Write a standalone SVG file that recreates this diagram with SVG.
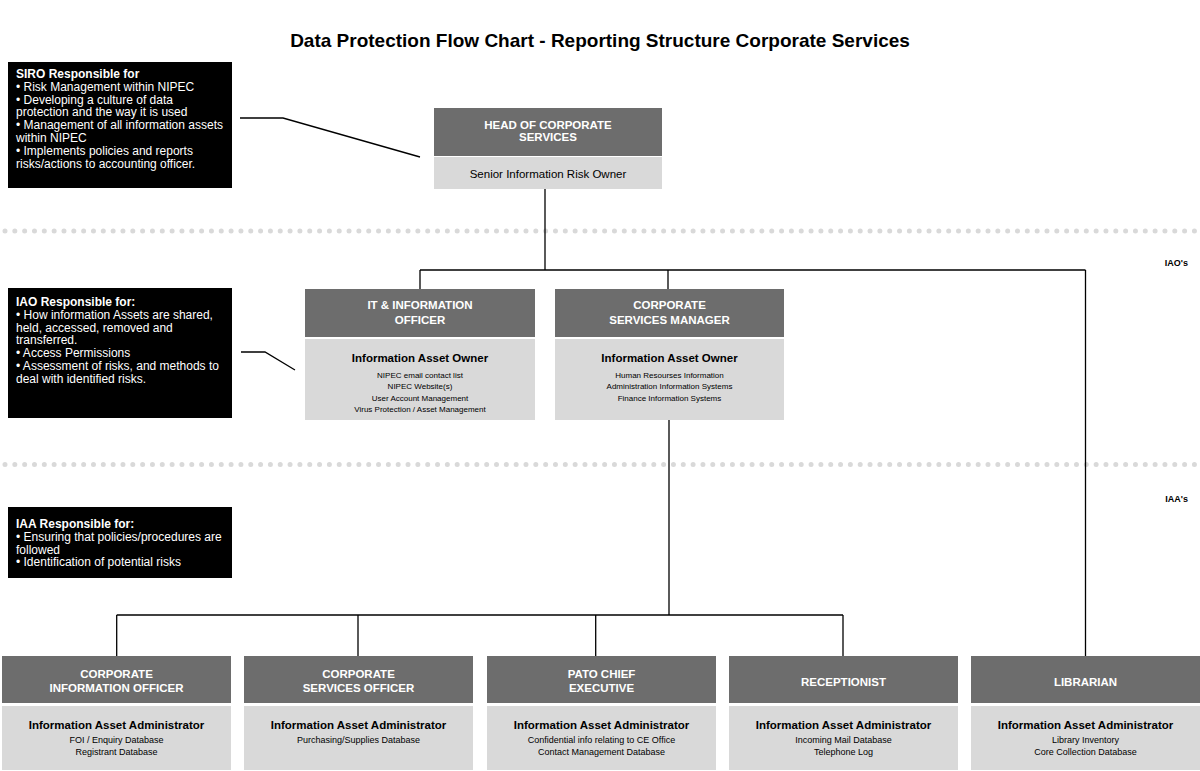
<svg xmlns="http://www.w3.org/2000/svg" width="1200" height="771" viewBox="0 0 1200 771">
<defs>
<style>
text{font-family:"Liberation Sans",Arial,sans-serif}
.title{font-size:19px;font-weight:bold;fill:#000;text-anchor:middle}
.note{fill:#000}
.nt{font-size:12px;fill:#fff}
.ntb{font-size:12px;fill:#fff;font-weight:bold}
.dk{fill:#6d6d6d}
.lt{fill:#d9d9d9}
.hd{font-size:11.5px;font-weight:bold;fill:#fff;text-anchor:middle}
.role{font-size:11.5px;font-weight:bold;fill:#000;text-anchor:middle}
.role2{font-size:11.5px;fill:#000;text-anchor:middle}
.sub{font-size:8px;fill:#000;text-anchor:middle}
.sub9{font-size:9px;fill:#000;text-anchor:middle}
.lvl{font-size:9px;font-weight:bold;fill:#000;text-anchor:end}
.ln{fill:none;stroke:#000;stroke-width:1.3}
.dots{fill:none;stroke:#d9d9d9;stroke-width:5;stroke-linecap:round;stroke-dasharray:0 9.83}
</style>
</defs>
<rect width="1200" height="771" fill="#fff"/>
<text class="title" x="600" y="47">Data Protection Flow Chart - Reporting Structure Corporate Services</text>

<g id="separators">
<line class="dots" x1="5" y1="231" x2="1198" y2="231"/>
<line class="dots" x1="5" y1="464.5" x2="1198" y2="464.5"/>
</g>

<g id="levels">
<text class="lvl" x="1188" y="266">IAO's</text>
<text class="lvl" x="1188" y="502">IAA's</text>
</g>

<g id="connectors">
<polyline class="ln" points="240,118 283,118 420,157"/>
<polyline class="ln" points="241,352 265,352 295,370"/>
<line class="ln" x1="545" y1="189" x2="545" y2="270"/>
<line class="ln" x1="420" y1="270" x2="1085.5" y2="270"/>
<line class="ln" x1="420" y1="270" x2="420" y2="289"/>
<line class="ln" x1="668" y1="270" x2="668" y2="289"/>
<line class="ln" x1="1085.5" y1="270" x2="1085.5" y2="656"/>
<line class="ln" x1="669" y1="420" x2="669" y2="615"/>
<line class="ln" x1="116.7" y1="615" x2="843" y2="615"/>
<line class="ln" x1="116.7" y1="615" x2="116.7" y2="656"/>
<line class="ln" x1="358" y1="615" x2="358" y2="656"/>
<line class="ln" x1="595.7" y1="615" x2="595.7" y2="656"/>
<line class="ln" x1="843" y1="615" x2="843" y2="656"/>
</g>

<g id="siro-note">
<rect class="note" x="8" y="62" width="224" height="126"/>
<text class="ntb" x="16" y="78">SIRO Responsible for</text>
<text class="nt" x="16" y="90.8">• Risk Management within NIPEC</text>
<text class="nt" x="16" y="103.6">• Developing a culture of data</text>
<text class="nt" x="16" y="116.4">protection and the way it is used</text>
<text class="nt" x="16" y="129.2">• Management of all information assets</text>
<text class="nt" x="16" y="142">within NIPEC</text>
<text class="nt" x="16" y="154.8">• Implements policies and reports</text>
<text class="nt" x="16" y="167.6">risks/actions to accounting officer.</text>
</g>

<g id="iao-note">
<rect class="note" x="8" y="288" width="224" height="130"/>
<text class="ntb" x="16" y="306">IAO Responsible for:</text>
<text class="nt" x="16" y="318.8">• How information Assets are shared,</text>
<text class="nt" x="16" y="331.6">held, accessed, removed and</text>
<text class="nt" x="16" y="344.4">transferred.</text>
<text class="nt" x="16" y="357.2">• Access Permissions</text>
<text class="nt" x="16" y="370">• Assessment of risks, and methods to</text>
<text class="nt" x="16" y="382.8">deal with identified risks.</text>
</g>

<g id="iaa-note">
<rect class="note" x="8" y="507" width="224" height="71"/>
<text class="ntb" x="16" y="528">IAA Responsible for:</text>
<text class="nt" x="16" y="540.8">• Ensuring that policies/procedures are</text>
<text class="nt" x="16" y="553.6">followed</text>
<text class="nt" x="16" y="566.4">• Identification of potential risks</text>
</g>

<g id="head">
<rect class="dk" x="434" y="108" width="228" height="48"/>
<rect class="lt" x="434" y="157" width="228" height="32"/>
<text class="hd" x="548" y="128.5">HEAD OF CORPORATE</text>
<text class="hd" x="548" y="141">SERVICES</text>
<text class="role2" x="548" y="178">Senior Information Risk Owner</text>
</g>

<g id="it-officer">
<rect class="dk" x="305" y="289" width="230" height="48"/>
<rect class="lt" x="305" y="339" width="230" height="81"/>
<text class="hd" x="420" y="309">IT &amp; INFORMATION</text>
<text class="hd" x="420" y="323.5">OFFICER</text>
<text class="role" x="420" y="362">Information Asset Owner</text>
<text class="sub" x="420" y="377.5">NIPEC email contact list</text>
<text class="sub" x="420" y="389">NIPEC Website(s)</text>
<text class="sub" x="420" y="400.5">User Account Management</text>
<text class="sub" x="420" y="412">Virus Protection / Asset Management</text>
</g>

<g id="cs-manager">
<rect class="dk" x="555" y="289" width="229" height="48"/>
<rect class="lt" x="555" y="339" width="229" height="81"/>
<text class="hd" x="669.5" y="309">CORPORATE</text>
<text class="hd" x="669.5" y="323.5">SERVICES MANAGER</text>
<text class="role" x="669.5" y="362">Information Asset Owner</text>
<text class="sub" x="669.5" y="377.5">Human Resourses Information</text>
<text class="sub" x="669.5" y="389">Administration Information Systems</text>
<text class="sub" x="669.5" y="400.5">Finance Information Systems</text>
</g>

<g id="corp-info-officer">
<rect class="dk" x="2" y="656" width="229" height="47"/>
<rect class="lt" x="2" y="706" width="229" height="64"/>
<text class="hd" x="116.5" y="677.5">CORPORATE</text>
<text class="hd" x="116.5" y="691.5">INFORMATION OFFICER</text>
<text class="role" x="116.5" y="729">Information Asset Administrator</text>
<text class="sub9" x="116.5" y="743">FOI / Enquiry Database</text>
<text class="sub9" x="116.5" y="755">Registrant Database</text>
</g>

<g id="corp-services-officer">
<rect class="dk" x="244" y="656" width="229" height="47"/>
<rect class="lt" x="244" y="706" width="229" height="64"/>
<text class="hd" x="358.5" y="677.5">CORPORATE</text>
<text class="hd" x="358.5" y="691.5">SERVICES OFFICER</text>
<text class="role" x="358.5" y="729">Information Asset Administrator</text>
<text class="sub9" x="358.5" y="743">Purchasing/Supplies Database</text>
</g>

<g id="pato-chief-executive">
<rect class="dk" x="487" y="656" width="229" height="47"/>
<rect class="lt" x="487" y="706" width="229" height="64"/>
<text class="hd" x="601.5" y="677.5">PATO CHIEF</text>
<text class="hd" x="601.5" y="691.5">EXECUTIVE</text>
<text class="role" x="601.5" y="729">Information Asset Administrator</text>
<text class="sub9" x="601.5" y="743">Confidential info relating to CE Office</text>
<text class="sub9" x="601.5" y="755">Contact Management Database</text>
</g>

<g id="receptionist">
<rect class="dk" x="729" y="656" width="229" height="47"/>
<rect class="lt" x="729" y="706" width="229" height="64"/>
<text class="hd" x="843.5" y="686">RECEPTIONIST</text>
<text class="role" x="843.5" y="729">Information Asset Administrator</text>
<text class="sub9" x="843.5" y="743">Incoming Mail Database</text>
<text class="sub9" x="843.5" y="755">Telephone Log</text>
</g>

<g id="librarian">
<rect class="dk" x="971" y="656" width="229" height="47"/>
<rect class="lt" x="971" y="706" width="229" height="64"/>
<text class="hd" x="1085.5" y="686">LIBRARIAN</text>
<text class="role" x="1085.5" y="729">Information Asset Administrator</text>
<text class="sub9" x="1085.5" y="743">Library Inventory</text>
<text class="sub9" x="1085.5" y="755">Core Collection Database</text>
</g>
</svg>
